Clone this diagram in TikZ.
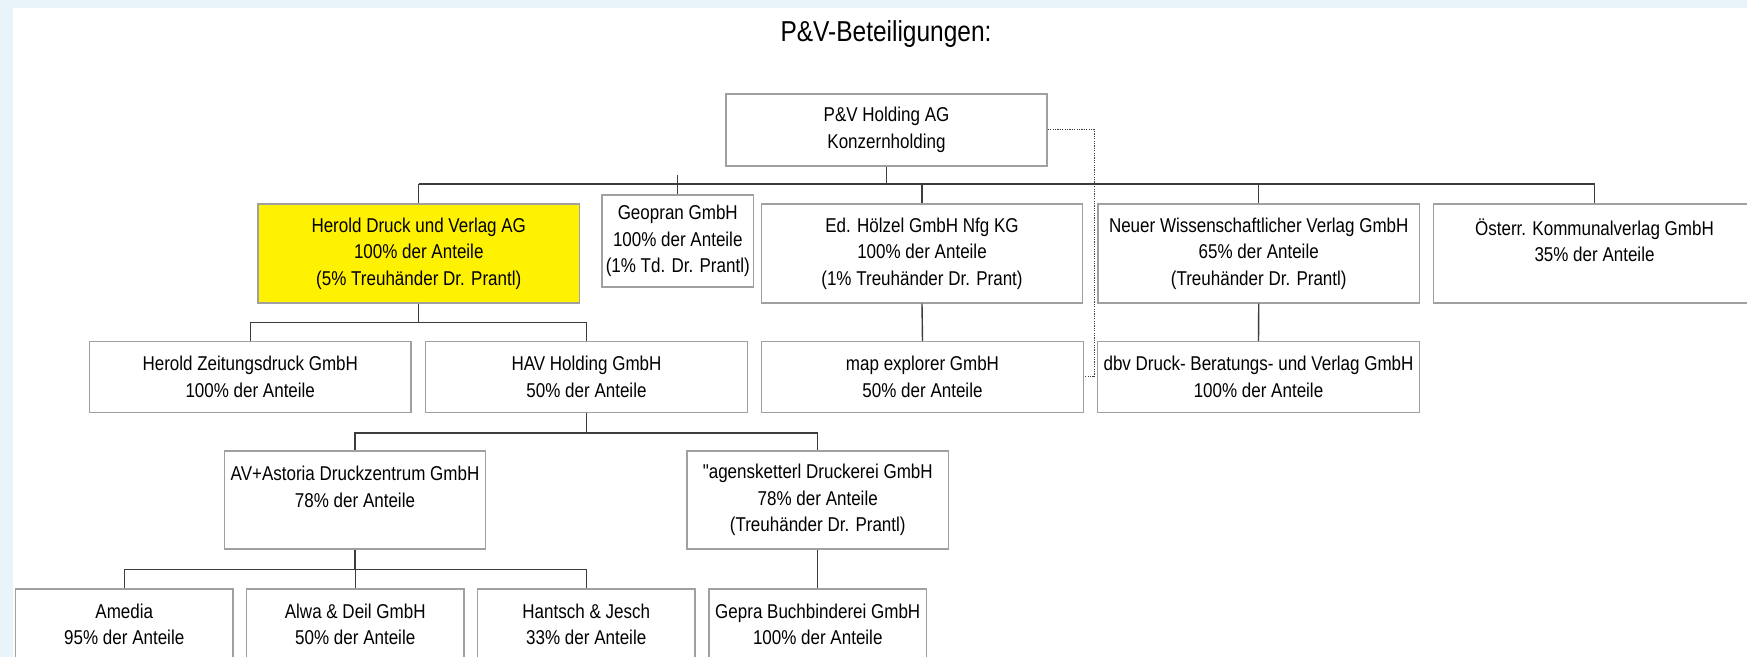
\documentclass[tikz,border=0pt]{standalone}
\usepackage{fontspec}
\setmainfont{Liberation Sans}[FakeStretch=0.85]
\newfontfamily\plainfont{Liberation Sans}[FakeStretch=0.85]
\definecolor{bgblue}{RGB}{232,244,250}
\definecolor{boxgray}{RGB}{160,160,160}
\definecolor{linegray}{RGB}{60,60,60}
\begin{document}
\begin{tikzpicture}[x=0.5pt,y=-0.5pt,
  box/.style={draw=boxgray,line width=0.7pt,fill=white,inner sep=0pt,align=center,
    font=\fontsize{10}{13.25}\selectfont,text=black},
  lvlone/.style={box,minimum width=160.75pt,minimum height=49.5pt},
  lvltwo/.style={box,minimum width=160.75pt,minimum height=35.3pt},
  lvlthree/.style={box,minimum width=130.75pt,minimum height=49pt},
  lvlfour/.style={box,minimum width=108.75pt,minimum height=35.5pt},
  conn/.style={draw=linegray,line width=0.7pt},
  dotconn/.style={draw=linegray,line width=0.5pt,dash pattern=on 0.6pt off 0.6pt},
  titlestyle/.style={font=\fontsize{14.4}{17}\selectfont,anchor=base,inner sep=0pt}]
\useasboundingbox (0,0) rectangle (1747,657);
\clip (0,0) rectangle (1747,657);
\fill[bgblue] (0,0) rectangle (1747,657);
\fill[white] (12.5,8) rectangle (1747,657);

\node[titlestyle] (title) at (886,42) {P\&V-Beteiligungen:};

% nodes
\node[box,minimum width=160.5pt,minimum height=36pt] (holding) at (886.5,130) {P\&V Holding AG\\Konzernholding};

\node[lvlone,fill=yellow] (herold) at (418.75,253.5) {Herold Druck und Verlag AG\\100\% der Anteile\\(5\% Treuhänder Dr. Prantl)};
\node[box,minimum width=75.75pt,minimum height=46pt] (geopran) at (677.75,241) {Geopran GmbH\\100\% der Anteile\\(1\% Td. Dr. Prantl)};
\node[lvlone] (hoelzel) at (922,253.5) {Ed. Hölzel GmbH Nfg KG\\100\% der Anteile\\(1\% Treuhänder Dr. Prant)};
\node[lvlone] (neuer) at (1258.75,253.5) {Neuer Wissenschaftlicher Verlag GmbH\\65\% der Anteile\\(Treuhänder Dr. Prantl)};
\node[lvlone] (oesterr) at (1594.5,253.5) {Österr. Kommunalverlag GmbH\\35\% der Anteile\\\mbox{}};

\node[lvltwo] (zeit) at (250.25,377) {Herold Zeitungsdruck GmbH\\100\% der Anteile};
\node[lvltwo] (hav) at (586.5,377) {HAV Holding GmbH\\50\% der Anteile};
\node[lvltwo] (map) at (922.5,377) {map explorer GmbH\\50\% der Anteile};
\node[lvltwo] (dbv) at (1258.5,377) {dbv Druck- Beratungs- und Verlag GmbH\\100\% der Anteile};

\node[lvlthree] (av) at (355,500) {AV+Astoria Druckzentrum GmbH\\78\% der Anteile\\\mbox{}};
\node[lvlthree] (agens) at (817.75,500) {{\plainfont"}agensketterl Druckerei GmbH\\78\% der Anteile\\(Treuhänder Dr. Prantl)};

\node[lvlfour] (amedia) at (124.25,624.5) {Amedia\\95\% der Anteile};
\node[lvlfour] (alwa) at (355.25,624.5) {Alwa \& Deil GmbH\\50\% der Anteile};
\node[lvlfour] (hantsch) at (586.25,624.5) {Hantsch \& Jesch\\33\% der Anteile};
\node[lvlfour] (gepra) at (817.75,624.5) {Gepra Buchbinderei GmbH\\100\% der Anteile};

% connectors
\coordinate (bus) at (0,184);
\draw[conn] (holding.south) -- (holding.south |- bus);
\draw[conn] (herold.north |- bus) -- (oesterr.north |- bus);
\foreach \n in {herold,hoelzel,neuer,oesterr}
  \draw[conn] (\n.north |- bus) -- (\n.north);
\draw[conn] (geopran.north) -- ++(0,-19);

\draw[conn] (herold.south) -- ++(0,19) -| (zeit.north);
\draw[conn] (herold.south) -- ++(0,19) -| (hav.north);

\draw[conn] (hav.south) -- ++(0,20) -| (av.north);
\draw[conn] (hav.south) -- ++(0,20) -| (agens.north);

\draw[conn] (av.south) -- ++(0,20) -| (amedia.north);
\draw[conn] (av.south) -- ++(0,20) -| (alwa.north);
\draw[conn] (av.south) -- ++(0,20) -| (hantsch.north);

\draw[conn] (agens.south) -- (gepra.north);
\draw[conn] (hoelzel.south) -- (map.north);
\draw[conn] (neuer.south) -- (dbv.north);

\draw[dotconn] (holding.east) -- ++(47,0) |- (map.east);
\end{tikzpicture}
\end{document}
